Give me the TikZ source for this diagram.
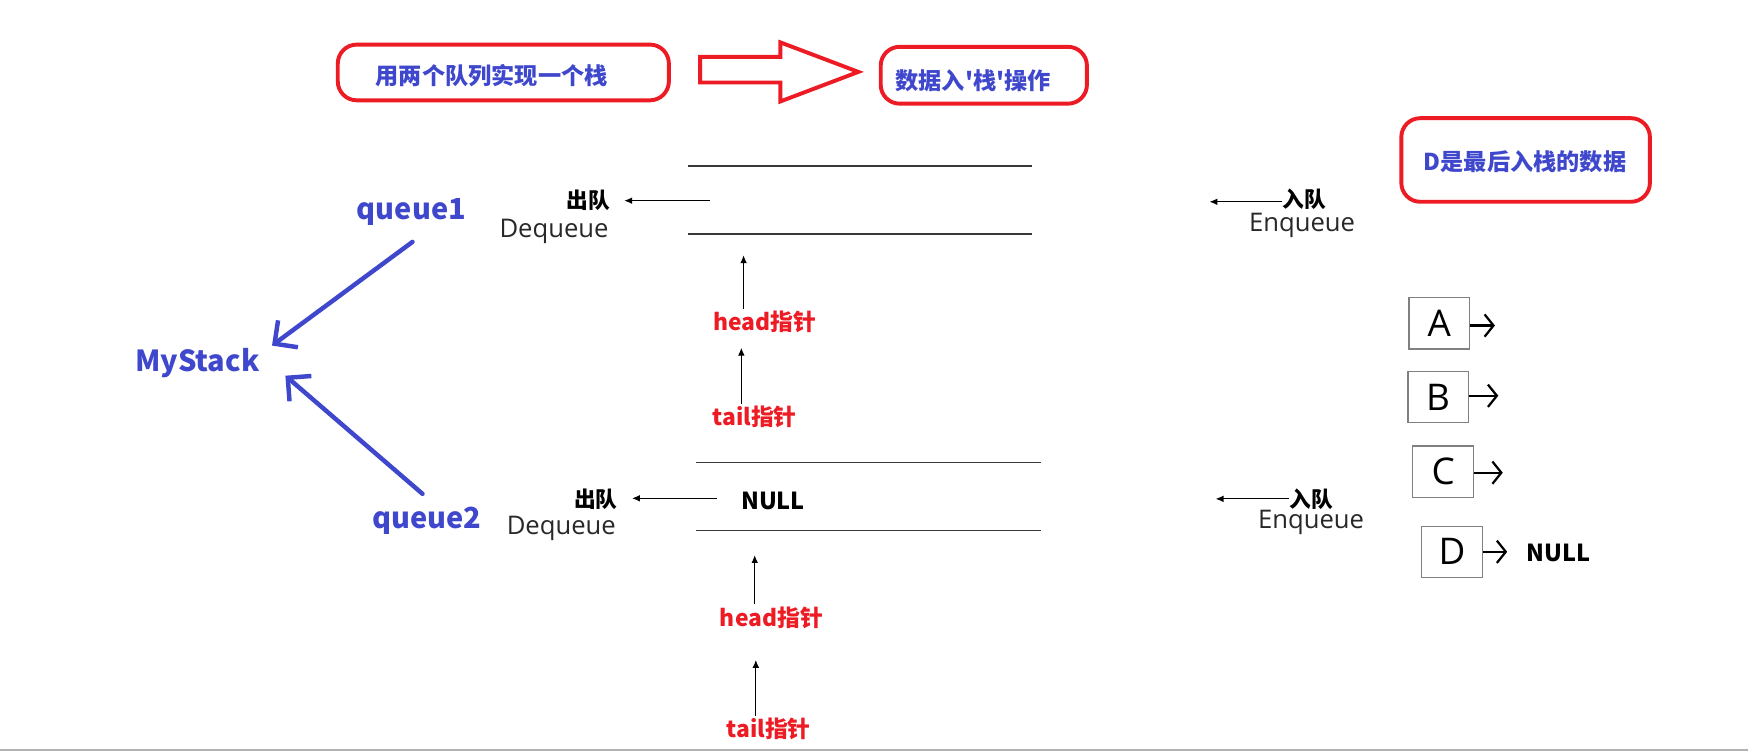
\documentclass[tikz,border=0pt]{standalone}
\usepackage{fontspec}
\setmainfont{Open Sans}
\newfontfamily\cjk{Noto Sans CJK SC}
\usetikzlibrary{arrows.meta}
\definecolor{pred}{RGB}{237,28,36}
\definecolor{pblue}{RGB}{63,72,204}
\definecolor{qgray}{RGB}{55,55,55}
\definecolor{txtgray}{RGB}{40,40,40}
\begin{document}
\begin{tikzpicture}[x=1pt,y=-1pt,
  frame/.style={draw=pred,line width=3.5pt,rounded corners=17pt,fill=white},
  title/.style={font=\cjk\bfseries\fontsize{20.8}{24}\selectfont,text=pblue,inner sep=0},
  big/.style={font=\cjk\bfseries\fontsize{26}{30}\selectfont,text=pblue,inner sep=0},
  lbl/.style={font=\cjk\bfseries\fontsize{19.5}{22}\selectfont,text=black,inner sep=0},
  eng/.style={font=\fontsize{23}{26}\selectfont,text=txtgray,inner sep=0},
  ptr/.style={font=\cjk\bfseries\fontsize{20.5}{24}\selectfont,text=pred,inner sep=0},
  qline/.style={draw=qgray,line width=1.4pt},
  thinarrow/.style={draw=black,line width=1pt,-{Latex[length=7pt,width=6pt]}},
  bluearrow/.style={draw=pblue,line width=4pt,line cap=round,-{Straight Barb[length=15pt,width=30pt]}},
  cell/.style={draw=gray,line width=1.2pt,inner sep=0,font=\fontsize{33}{38}\selectfont},
  link/.style={draw=black,line width=2pt,-{Straight Barb[length=8pt,width=20pt]}},
]
\useasboundingbox[fill=white] (0,0) rectangle (1568,673.6);

% ---------- top titles ----------
\node[frame,minimum width=297pt,minimum height=50pt] (f1) at (451.5,65) {};
\node[title] (t1) at (441,68) {用两个队列实现一个栈};
\draw[draw=pred,line width=3.5pt,fill=white,line join=miter]
  (628,51) -- (700,51) -- (700,38) -- (770,64.5) -- (700,91) -- (700,74) -- (628,74) -- cycle;
\node[frame,minimum width=185pt,minimum height=51pt] (f2) at (882.5,67.5) {};
\node[title] (t2) at (873,72) {数据入{\char"27}栈{\char"27}操作};
\node[frame,minimum width=223pt,minimum height=75pt] (f3) at (1368.5,143.5) {};
\node[title] (t3) at (1368,145) {D是最后入栈的数据};

% ---------- MyStack ----------
\node[big] (q1) at (369,190) {queue1};
\node[big] (ms) at (177,326) {MyStack};
\node[big] (q2) at (383,467) {queue2};
\coordinate (a1s) at (370,217);
\coordinate (a1e) at (244,310);
\coordinate (a2s) at (379,443);
\coordinate (a2e) at (256,337);
\draw[bluearrow] (a1s) -- (a1e);
\draw[bluearrow] (a2s) -- (a2e);

% ---------- queue 1 ----------
\coordinate (q1tl) at (617,149); \coordinate (q1tr) at (926,149);
\coordinate (q1bl) at (617,210); \coordinate (q1br) at (926,210);
\draw[qline] (q1tl) -- (q1tr);
\draw[qline] (q1bl) -- (q1br);
\node[lbl] (out1) at (528,180) {出队};
\node[eng] (deq1) at (497,208) {Dequeue};
\coordinate (o1s) at (637,180);
\coordinate (o1e) at (560,180);
\draw[thinarrow] (o1s) -- (o1e);
\node[lbl] (in1) at (1170,179) {入队};
\node[eng] (enq1) at (1168,202) {Enqueue};
\coordinate (i1e) at (1085,181);
\draw[thinarrow] (in1.west |- i1e) -- (i1e);
\node[ptr] (h1) at (686,289) {head指针};
\node[ptr] (tl1) at (677,374) {tail指针};
\coordinate (h1e) at (667,229);
\coordinate (tl1e) at (665,312);
\draw[thinarrow] (h1e |- h1.north) ++(0,-2) -- (h1e);
\draw[thinarrow] (tl1e |- tl1.north) ++(0,-2) -- (tl1e);

% ---------- queue 2 ----------
\coordinate (q2tl) at (624,415); \coordinate (q2tr) at (934,415);
\coordinate (q2bl) at (624,476); \coordinate (q2br) at (934,476);
\draw[qline] (q2tl) -- (q2tr);
\draw[qline] (q2bl) -- (q2br);
\node[lbl] (out2) at (534.5,447.5) {出队};
\node[eng] (deq2) at (503.5,474) {Dequeue};
\coordinate (o2s) at (643,447);
\coordinate (o2e) at (567,447);
\draw[thinarrow] (o2s) -- (o2e);
\node[lbl,font=\cjk\bfseries\fontsize{21}{24}\selectfont] (null1) at (693.5,449) {NULL};
\node[lbl] (in2) at (1176,447.5) {入队};
\node[eng] (enq2) at (1176,469) {Enqueue};
\coordinate (i2e) at (1090.5,447.5);
\draw[thinarrow] (in2.west) -- (i2e);
\node[ptr] (h2) at (692,554) {head指针};
\node[ptr] (tl2) at (689.5,654) {tail指针};
\coordinate (h2e) at (677,498);
\coordinate (tl2e) at (678,592);
\draw[thinarrow] (h2e |- h2.north) ++(0,-2) -- (h2e);
\draw[thinarrow] (tl2e |- tl2.north) ++(0,-2) -- (tl2e);

% ---------- cells ----------
\node[cell,minimum width=54pt,minimum height=46pt] (A) at (1291,290) {A};
\node[cell,minimum width=54pt,minimum height=46pt] (B) at (1290,356) {B};
\node[cell,minimum width=55pt,minimum height=46pt] (C) at (1294.5,423) {C};
\node[cell,minimum width=55pt,minimum height=46pt] (D) at (1302.5,495) {D};
\coordinate (Ae) at (1341,292);
\coordinate (Be) at (1344,355);
\coordinate (Ce) at (1348,424);
\coordinate (De) at (1352,495);
\draw[link] (A.east |- Ae) -- (Ae);
\draw[link] (B.east |- Be) -- (Be);
\draw[link] (C.east |- Ce) -- (Ce);
\draw[link] (D.east |- De) -- (De);
\node[lbl,font=\cjk\bfseries\fontsize{21}{24}\selectfont] (null2) at (1398,496) {NULL};

% ---------- bottom edge ----------
\coordinate (bl) at (0,672.6);
\coordinate (br) at (1568,672.6);
\draw[draw=gray!60,line width=1.5pt] (bl) -- (br);
\end{tikzpicture}
\end{document}
